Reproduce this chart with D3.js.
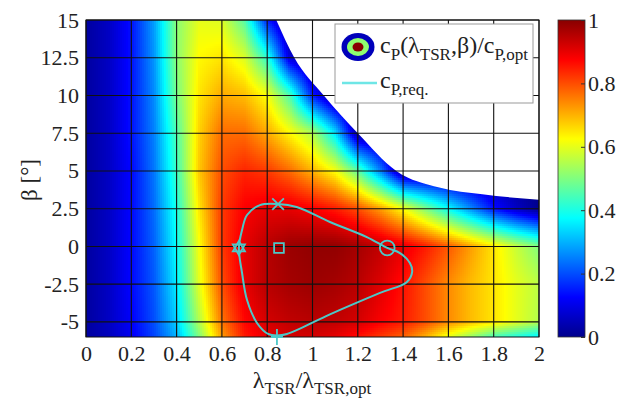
<!DOCTYPE html>
<html>
<head>
<meta charset="utf-8">
<script src="https://cdn.jsdelivr.net/npm/d3@7"></script>
</head>
<body style="margin:0">
<script>
// normalised power coefficient, rows = pitch angle
var lambdaCols = [0, 0.1, 0.2, 0.3, 0.4, 0.5, 0.6, 0.7, 0.8, 0.9, 1.0,
                  1.1, 1.2, 1.3, 1.4, 1.5, 1.6, 1.7, 1.8, 1.9, 2.0]
var betaRows = [15, 12.5, 10, 7.5, 5, 2.5, 0, -2.5, -5, -6]
var cpRows = [
  [0.02,0.06,0.14,0.28,0.51,0.60,0.59,0.46,0.15,0,0,0,0,0,0,0,0,0,0,0,0],
  [0.02,0.06,0.14,0.27,0.51,0.63,0.65,0.59,0.42,0.08,0,0,0,0,0,0,0,0,0,0,0],
  [0.02,0.06,0.14,0.26,0.49,0.65,0.71,0.69,0.62,0.45,0.15,0,0,0,0,0,0,0,0,0,0],
  [0.02,0.06,0.14,0.25,0.45,0.67,0.77,0.77,0.71,0.63,0.55,0.35,0.02,0,0,0,0,0,0,0,0],
  [0.02,0.06,0.13,0.24,0.43,0.68,0.80,0.84,0.82,0.77,0.70,0.62,0.47,0.25,0,0,0,0,0,0,0],
  [0.02,0.06,0.13,0.23,0.40,0.65,0.82,0.88,0.90,0.90,0.88,0.85,0.80,0.72,0.62,0.50,0.38,0.26,0.14,0.06,0],
  [0.02,0.06,0.13,0.22,0.38,0.62,0.82,0.90,0.95,0.98,0.99,0.99,0.97,0.94,0.90,0.85,0.79,0.72,0.65,0.57,0.50],
  [0.02,0.06,0.13,0.21,0.36,0.60,0.80,0.90,0.95,0.97,0.98,0.97,0.95,0.91,0.86,0.80,0.74,0.69,0.65,0.60,0.56],
  [0.02,0.06,0.12,0.20,0.33,0.55,0.76,0.87,0.92,0.94,0.95,0.94,0.92,0.88,0.85,0.80,0.74,0.69,0.65,0.60,0.55],
  [0.02,0.05,0.11,0.19,0.30,0.50,0.72,0.85,0.90,0.92,0.92,0.90,0.86,0.82,0.78,0.70,0.60,0.52,0.44,0.40,0.36]
]
// edge of the region where cp < 0 (left white)
var limitLambda = [0.84, 0.92, 1.05, 1.2, 1.37, 1.56, 1.75, 2.0]
var limitBeta   = [15, 12.5, 10, 7.5, 5, 3.9, 3.45, 3.1]

// required cp contour
var reqLambda = [0.848,0.93,1.077,1.24,1.33,1.386,1.43,1.44,1.417,1.298,1.077,0.887,0.843,0.804,0.755,0.711,0.689,0.675,0.689,0.711,0.768]
var reqBeta   = [2.81,2.61,1.62,0.62,-0.1,-0.44,-1.1,-1.68,-2.35,-3.08,-4.5,-5.8,-5.9,-5.8,-5.07,-3.55,-1.76,-0.1,1.09,2.08,2.74]

// operating point markers
var markerType   = ["cross", "square", "circle", "star", "plus"]
var markerLambda = [0.848, 0.852, 1.33, 0.675, 0.843]
var markerBeta   = [2.8, -0.1, -0.1, -0.1, -6]

var xTicks = [0, 0.2, 0.4, 0.6, 0.8, 1, 1.2, 1.4, 1.6, 1.8, 2]
var yTicks = [-5, -2.5, 0, 2.5, 5, 7.5, 10, 12.5, 15]
var cTicks = [0, 0.2, 0.4, 0.6, 0.8, 1]

var width = 627, height = 404
var pad = {left: 86, right: 539, top: 20, bottom: 337}
var lineCol = "#4cc8c8"
var font = "Liberation Serif"
var tickFmt = function(d){ return String(d) }

var svg = d3.select("body").append("svg")
            .attr("width", width)
            .attr("height", height)

var xScale = d3.scaleLinear().domain([0, 2]).range([pad.left, pad.right])
var yScale = d3.scaleLinear().domain([-6, 15]).range([pad.bottom, pad.top])

// jet colour map
var jet = d3.scaleLinear()
            .domain([0, 0.125, 0.375, 0.625, 0.875, 1])
            .range(["#00008c", "#0000ff", "#00ffff", "#ffff00", "#ff0000", "#880000"])
            .clamp(true)

// bilinear lookup in the read grid, only for shading the field smoothly
const lookup = function(lam, beta){
  var c = Math.max(0, Math.min(lambdaCols.length - 2, Math.floor(lam / 0.1)))
  var tx = (lam - lambdaCols[c]) / (lambdaCols[c + 1] - lambdaCols[c])
  var r = 0
  while (r < betaRows.length - 2 && beta < betaRows[r + 1]) r++
  var ty = (betaRows[r] - beta) / (betaRows[r] - betaRows[r + 1])
  tx = Math.max(0, Math.min(1, tx))
  ty = Math.max(0, Math.min(1, ty))
  var a = cpRows[r][c] * (1 - tx) + cpRows[r][c + 1] * tx
  var b = cpRows[r + 1][c] * (1 - tx) + cpRows[r + 1][c + 1] * tx
  return a * (1 - ty) + b * ty
}

// field as small svg cells
var cell = 2
var cells = []
for (let py = pad.top; py < pad.bottom; py += cell){
  for (let px = pad.left; px < pad.right; px += cell){
    cells.push([px, py])
  }
}
svg.append("g")
   .attr("shape-rendering", "crispEdges")
   .selectAll("rect")
   .data(cells)
   .enter()
   .append("rect")
   .attr("x", function(d){ return d[0] })
   .attr("y", function(d){ return d[1] })
   .attr("width", function(d){ return Math.min(cell, pad.right - d[0]) })
   .attr("height", function(d){ return Math.min(cell, pad.bottom - d[1]) })
   .attr("fill", function(d){
     return jet(lookup(xScale.invert(d[0] + cell / 2), yScale.invert(d[1] + cell / 2)))
   })

// white mask where cp is negative
var limitPts = limitLambda.map(function(d, i){ return [xScale(d), yScale(limitBeta[i])] })
var limitLine = d3.line().curve(d3.curveMonotoneX)
svg.append("path")
   .attr("d", limitLine(limitPts) + "L" + (xScale(2) + 1) + "," + (yScale(15) - 1) + "Z")
   .attr("fill", "#fff")

// grid
var grid = svg.append("g").attr("stroke", "#111").attr("stroke-width", 1.1)
grid.selectAll(".gx").data(xTicks).enter().append("line")
    .attr("x1", function(d){ return xScale(d) }).attr("x2", function(d){ return xScale(d) })
    .attr("y1", pad.top).attr("y2", pad.bottom)
grid.selectAll(".gy").data(yTicks).enter().append("line")
    .attr("y1", function(d){ return yScale(d) }).attr("y2", function(d){ return yScale(d) })
    .attr("x1", pad.left).attr("x2", pad.right)

svg.append("rect")
   .attr("x", pad.left).attr("y", pad.top)
   .attr("width", pad.right - pad.left).attr("height", pad.bottom - pad.top)
   .attr("fill", "none").attr("stroke", "#111").attr("stroke-width", 1)

// axes labels
var xAxis = d3.axisBottom(xScale).tickValues(xTicks).tickSize(0).tickPadding(8)
            .tickFormat(tickFmt)
var gx = svg.append("g").attr("transform", "translate(0," + pad.bottom + ")").call(xAxis)
gx.select(".domain").remove()
gx.selectAll("text").style("font-size", "22px")

var yAxis = d3.axisLeft(yScale).tickValues(yTicks).tickSize(0).tickPadding(7)
            .tickFormat(tickFmt)
var gy = svg.append("g").attr("transform", "translate(" + pad.left + ",0)").call(yAxis)
gy.select(".domain").remove()
gy.selectAll("text").style("font-size", "22px")

// x label
var xl = svg.append("text")
            .attr("x", 312).attr("y", 388)
            .attr("text-anchor", "middle")
            .style("font-size", "24px")
xl.append("tspan").text("λ")
xl.append("tspan").attr("dy", 6).style("font-size", "17px").text("TSR")
xl.append("tspan").attr("dy", -6).text("/λ")
xl.append("tspan").attr("dy", 6).style("font-size", "17px").text("TSR,opt")

// y label
svg.append("text")
   .attr("transform", "translate(37,180) rotate(-90)")
   .attr("text-anchor", "middle")
   .style("font-size", "23px")
   .text("β [°]")

// required cp curve
var reqPts = reqLambda.map(function(d, i){ return [xScale(d), yScale(reqBeta[i])] })
svg.append("path")
   .attr("d", d3.line().curve(d3.curveCatmullRomClosed.alpha(0.5))(reqPts))
   .attr("fill", "none")
   .attr("stroke", lineCol)
   .attr("stroke-width", 2)

var symbolFor = {
  cross: d3.symbol().type(d3.symbolX).size(90),
  square: d3.symbol().type(d3.symbolSquare2).size(120),
  circle: d3.symbol().type(d3.symbolCircle).size(170)
}
markerType.forEach(function(t, i){
  var cx = xScale(markerLambda[i]), cy = yScale(markerBeta[i])
  if (t == "star"){
    // hexagram: two triangles
    var r = 7
    var tri = function(off){
      return [0, 1, 2].map(function(k){
        var a = off + k * 2 * Math.PI / 3
        return [cx + r * Math.sin(a), cy - r * Math.cos(a)]
      })
    }
    ;[0, Math.PI].forEach(function(off){
      svg.append("path")
         .attr("d", "M" + tri(off).join("L") + "Z")
         .attr("fill", "none").attr("stroke", lineCol).attr("stroke-width", 1.8)
    })
    return
  }
  svg.append("path")
     .attr("transform", "translate(" + cx + "," + cy + ")")
     .attr("d", t == "plus" ? "M0,-8V8M-6,0H6" : symbolFor[t]())
     .attr("fill", "none")
     .attr("stroke", lineCol)
     .attr("stroke-width", 1.8)
})

// legend
var leg = svg.append("g")
leg.append("rect")
   .attr("x", 335).attr("y", 24).attr("width", 198).attr("height", 79)
   .attr("fill", "#fff").attr("stroke", "#999").attr("stroke-width", 1)
var ringVals = [0.05, 0.55, 1.0]
var ringR = [[16.5, 14], [11, 9], [5.5, 4.5]]
ringVals.forEach(function(v, i){
  leg.append("ellipse")
     .attr("cx", 358).attr("cy", 47)
     .attr("rx", ringR[i][0]).attr("ry", ringR[i][1])
     .attr("fill", i == 1 ? "#8fff70" : jet(v))
})
leg.append("line")
   .attr("x1", 342).attr("x2", 377).attr("y1", 83).attr("y2", 83)
   .attr("stroke", "#6ee6e6").attr("stroke-width", 2.5)
var t1 = leg.append("text").attr("x", 380).attr("y", 53).style("font-size", "24px")
t1.append("tspan").text("c")
t1.append("tspan").attr("dy", 7).style("font-size", "17px").text("P")
t1.append("tspan").attr("dy", -7).text("(λ")
t1.append("tspan").attr("dy", 7).style("font-size", "17px").text("TSR")
t1.append("tspan").attr("dy", -7).text(",β)/c")
t1.append("tspan").attr("dy", 7).style("font-size", "17px").text("P,opt")
var t2 = leg.append("text").attr("x", 380).attr("y", 88).style("font-size", "24px")
t2.append("tspan").text("c")
t2.append("tspan").attr("dy", 7).style("font-size", "17px").text("P,req.")

// colour bar
var cbX = 558, cbW = 27
var cScale = d3.scaleLinear().domain([0, 1]).range([pad.bottom, pad.top])
var grad = svg.append("defs").append("linearGradient")
              .attr("id", "jetGrad")
              .attr("x1", 0).attr("y1", 1).attr("x2", 0).attr("y2", 0)
jet.domain().forEach(function(d){
  grad.append("stop").attr("offset", d).attr("stop-color", jet(d))
})
svg.append("rect")
   .attr("x", cbX).attr("y", pad.top)
   .attr("width", cbW).attr("height", pad.bottom - pad.top)
   .attr("fill", "url(#jetGrad)")
   .attr("stroke", "#333").attr("stroke-width", 0.8)
var cAxis = d3.axisRight(cScale).tickValues(cTicks).tickSize(4).tickPadding(3)
            .tickFormat(tickFmt)
var gc = svg.append("g").attr("transform", "translate(" + (cbX + cbW - 4) + ",0)").call(cAxis)
gc.select(".domain").remove()
gc.selectAll("line").attr("stroke", "#333")
gc.selectAll("text").style("font-size", "22px")

svg.selectAll("text")
   .style("font-family", font)
   .attr("fill", "#222")
</script>
</body>
</html>
